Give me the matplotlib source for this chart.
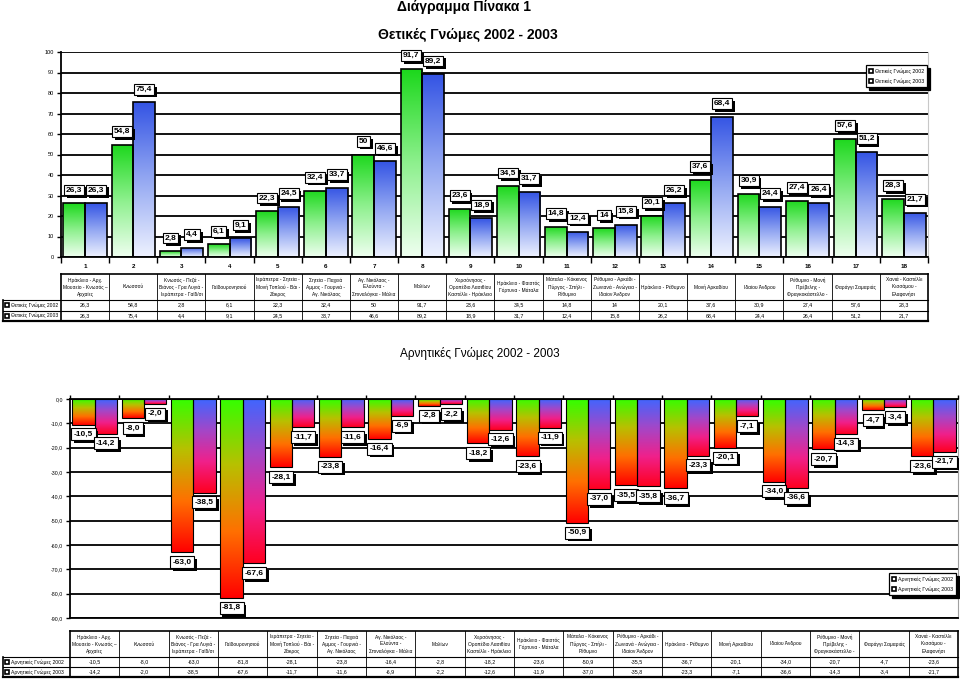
import numpy as np
import matplotlib
matplotlib.use('Agg')
import matplotlib.pyplot as plt
from matplotlib.colors import LinearSegmentedColormap
from matplotlib.lines import Line2D
from matplotlib.transforms import blended_transform_factory, Affine2D
import matplotlib.patheffects as pe

plt.rcParams['font.family'] = ['Liberation Sans', 'DejaVu Sans']

# ---------------- data ----------------
numbers = [str(i) for i in range(1, 19)]
categories = [
    "Ηράκλειο - Αρχ.\nΜουσείο - Κνωσός –\nΑρχαίες",
    "Κνωσσού",
    "Κνωσός - Πεζά -\nΒιάνος - Γρα Λυγιά -\nΙεράπετρα - Γαϊδ/σι",
    "Γαϊδουρονησιού",
    "Ιεράπετρα - Σητεία -\nΜονή Τοπλού - Βάι -\nΖάκρος",
    "Σητεία - Παχειά\nΑμμος - Γουρνιά -\nΑγ. Νικόλαος",
    "Αγ. Νικόλαος -\nΕλούντα -\nΣπιναλόγκα - Μάλια",
    "Μαλίων",
    "Χερσόνησος -\nΟροπέδιο Λασιθίου\nΚαστέλλι - Ηράκλειο",
    "Ηράκλειο - Φαιστός\nΓόρτυνα - Μάταλα",
    "Μάταλα - Κόκκινος\nΠύργος - Σπήλι -\nΡέθυμνο",
    "Ρέθυμνο - Αρκάδι -\nΖωνιανά - Ανώγεια -\nΙδαίον Άνδρον",
    "Ηράκλειο - Ρέθυμνο",
    "Μονή Αρκαδίου",
    "Ιδαίου Άνδρου",
    "Ρέθυμνο - Μονή\nΠρέβελης -\nΦραγκοκάστελλο -",
    "Φαράγγι Σαμαριάς",
    "Χανιά - Καστέλλι\nΚισσάμου -\nΕλαφονήσι",
]
pos_2002 = [26.3, 54.8, 2.8, 6.1, 22.3, 32.4, 50, 91.7, 23.6, 34.5, 14.8, 14, 20.1, 37.6, 30.9, 27.4, 57.6, 28.3]
pos_2003 = [26.3, 75.4, 4.4, 9.1, 24.5, 33.7, 46.6, 89.2, 18.9, 31.7, 12.4, 15.8, 26.2, 68.4, 24.4, 26.4, 51.2, 21.7]
neg_2002 = [-10.5, -8.0, -63.0, -81.8, -28.1, -23.8, -16.4, -2.8, -18.2, -23.6, -50.9, -35.5, -36.7, -20.1, -34.0, -20.7, -4.7, -23.6]
neg_2003 = [-14.2, -2.0, -38.5, -67.6, -11.7, -11.6, -6.9, -2.2, -12.6, -11.9, -37.0, -35.8, -23.3, -7.1, -36.6, -14.3, -3.4, -21.7]
series_pos = ["Θετικές Γνώμες 2002", "Θετικές Γνώμες 2003"]
series_neg = ["Αρνητικές Γνώμες 2002", "Αρνητικές Γνώμες 2003"]
title_main = "Διάγραμμα Πίνακα 1"
title_pos = "Θετικές Γνώμες 2002 - 2003"
title_neg = "Αρνητικές Γνώμες 2002 - 2003"

# ---------------- layout ----------------
W, H = 960, 679
fig = plt.figure(figsize=(W / 100, H / 100), dpi=100)
fig.patch.set_facecolor('white')

POS_BOX = (61, 52, 928, 257)     # left, top, right, bottom in px
NEG_BOX = (70, 399, 958, 618)


def frac(box):
    l, t, r, b = box
    return [l / W, 1 - b / H, (r - l) / W, (b - t) / H]


ax1 = fig.add_axes(frac(POS_BOX))
ax2 = fig.add_axes(frac(NEG_BOX))

cm_pos_g = LinearSegmentedColormap.from_list('pg', ['#1cd81c', '#8ef08e', '#effff0'])
cm_pos_b = LinearSegmentedColormap.from_list('pb', ['#3454e4', '#94a8f2', '#eef2ff'])
cm_neg_g = LinearSegmentedColormap.from_list('ng', ['#33ff00', '#b8c000', '#ff7000', '#ff0000'])
cm_neg_b = LinearSegmentedColormap.from_list('nb', ['#3f66ff', '#a347c8', '#f0208a', '#ff0020'])

GRAD = np.linspace(0, 1, 256).reshape(-1, 1)
SHADOW = [pe.SimplePatchShadow(offset=(2, -2), shadow_rgbFace='black', alpha=1.0), pe.Normal()]


def grad_bars(ax, xs, vals, width, cmap, lw):
    bars = ax.bar(xs, vals, width=width, facecolor='none', edgecolor='black',
                  linewidth=lw, zorder=3)
    for b in bars:
        x0, w = b.get_x(), b.get_width()
        y0, h = b.get_y(), b.get_height()
        lo, hi = min(y0, y0 + h), max(y0, y0 + h)
        im = ax.imshow(GRAD, cmap=cmap, extent=(x0, x0 + w, lo, hi), origin='upper',
                       aspect='auto', zorder=2, interpolation='bilinear')
        im.set_clip_path(b)
    return bars


def data_label(ax, x, y, s, dy, va, pad):
    t = ax.annotate(s, (x, y), xytext=(0, dy), xycoords='data', textcoords='offset points',
                    ha='center', va=va, fontsize=6, fontweight='bold', color='black',
                    annotation_clip=False, zorder=7,
                    bbox=dict(boxstyle='square,pad=%s' % pad, fc='white', ec='black', lw=0.8))
    t.get_bbox_patch().set_path_effects(SHADOW)


x = np.arange(len(categories))
bw = 0.45


def fmt_pos(v):
    return ('%g' % v).replace('.', ',')


def fmt_neg(v):
    return ('%.1f' % v).replace('.', ',')


# ---------------- positive chart ----------------
grad_bars(ax1, x - bw / 2, pos_2002, bw, cm_pos_g, 1.2)
grad_bars(ax1, x + bw / 2, pos_2003, bw, cm_pos_b, 1.2)
for xi, v in zip(x - bw / 2, pos_2002):
    data_label(ax1, xi, v, fmt_pos(v), 7, 'bottom', 0.22)
for xi, v in zip(x + bw / 2, pos_2003):
    data_label(ax1, xi, v, fmt_pos(v), 7, 'bottom', 0.22)

ax1.set_xlim(-0.5, len(categories) - 0.5)
ax1.set_ylim(0, 100)
ax1.set_yticks(np.arange(0, 101, 10))
ax1.set_yticklabels([str(t) for t in range(0, 101, 10)], fontsize=4)
ax1.yaxis.grid(True, color='black', linewidth=1.3)
ax1.set_axisbelow(True)
ax1.set_xticks(x)
ax1.set_xticklabels(numbers, fontsize=4.5, fontweight='bold')
ax1.tick_params(axis='x', which='major', length=0, pad=5)
ax1.set_xticks(np.arange(-0.5, len(categories), 1), minor=True)
ax1.tick_params(axis='x', which='minor', length=4, width=1, direction='out')
ax1.tick_params(axis='y', length=3, width=1, pad=2)
ax1.spines['top'].set_visible(False)
ax1.spines['right'].set_color('#c8c8c8')
ax1.spines['left'].set_linewidth(1.3)
ax1.spines['bottom'].set_linewidth(1.3)

marker_kw = dict(marker='s', linestyle='none', markerfacecolor='white',
                 markeredgecolor='black', markeredgewidth=1.2, markersize=3.2)
h_pos = [Line2D([], [], **marker_kw) for _ in series_pos]
leg1 = ax1.legend(h_pos, series_pos, loc='upper right', bbox_to_anchor=(927 / W, 1 - 65 / H),
                  bbox_transform=fig.transFigure, fontsize=3.8, frameon=True, fancybox=False,
                  edgecolor='black', framealpha=1, borderpad=0.6, labelspacing=0.9,
                  handlelength=0.6, handletextpad=0.4, borderaxespad=0,
                  shadow={'ox': 2, 'oy': -2, 'color': 'black', 'alpha': 1})
leg1.get_frame().set_linewidth(0.9)

# ---------------- negative chart ----------------
grad_bars(ax2, x - bw / 2, neg_2002, bw, cm_neg_g, 0.8)
grad_bars(ax2, x + bw / 2, neg_2003, bw, cm_neg_b, 0.8)
for xi, v in zip(x - bw / 2, neg_2002):
    data_label(ax2, xi, v, fmt_neg(v), -4.5, 'top', 0.3)
for xi, v in zip(x + bw / 2, neg_2003):
    data_label(ax2, xi, v, fmt_neg(v), -4.5, 'top', 0.3)

ax2.set_xlim(-0.5, len(categories) - 0.5)
ax2.set_ylim(-90, 0)
yt = np.arange(-90, 1, 10)
ax2.set_yticks(yt)
ax2.set_yticklabels([fmt_neg(t) for t in yt], fontsize=3.8)
ax2.yaxis.grid(True, color='black', linewidth=1.3)
ax2.set_axisbelow(True)
ax2.xaxis.tick_top()
ax2.set_xticks(x)
ax2.set_xticklabels([])
ax2.tick_params(axis='x', which='major', length=0)
ax2.set_xticks(np.arange(-0.5, len(categories), 1), minor=True)
ax2.tick_params(axis='x', which='minor', length=3, width=1, direction='out', top=True, bottom=False)
ax2.tick_params(axis='y', length=3, width=1, pad=2)
ax2.spines['top'].set_linewidth(1.3)
ax2.spines['left'].set_linewidth(1.3)
ax2.spines['bottom'].set_linewidth(1.3)
ax2.spines['right'].set_color('#a0a0a0')

h_neg = [Line2D([], [], **marker_kw) for _ in series_neg]
leg2 = ax2.legend(h_neg, series_neg, loc='lower right', bbox_to_anchor=(956 / W, 1 - 595 / H),
                  bbox_transform=fig.transFigure, fontsize=3.8, frameon=True, fancybox=False,
                  edgecolor='black', framealpha=1, borderpad=0.6, labelspacing=0.9,
                  handlelength=0.6, handletextpad=0.4, borderaxespad=0,
                  shadow={'ox': 2, 'oy': -2, 'color': 'black', 'alpha': 1})
leg2.get_frame().set_linewidth(0.9)


# ---------------- data tables ----------------
def draw_table(ax, box, top, hdr_h, row_h, headers, row_names, row_vals, fmt):
    left_px, _, right_px, _ = box
    n = len(headers)
    unit = (right_px - left_px) / n
    ytr = Affine2D().scale(1, -1 / H).translate(0, 1) + fig.transFigure
    tr = blended_transform_factory(ax.transData, ytr)
    edges = np.arange(n + 1) - 0.5
    xl = -0.5 - (left_px - 3) / unit
    y_h1 = top + hdr_h
    ys = [y_h1 + k * row_h for k in range(len(row_vals) + 1)]
    bottom = ys[-1]

    def hl(x0, x1, y, lw):
        fig.add_artist(Line2D([x0, x1], [y, y], color='black', lw=lw, transform=tr))

    def vl(xx, y0, y1, lw):
        fig.add_artist(Line2D([xx, xx], [y0, y1], color='black', lw=lw, transform=tr))

    hl(edges[0], edges[-1], top, 1.2)
    hl(xl, edges[-1], y_h1, 0.8)
    for yy in ys[1:-1]:
        hl(xl, edges[-1], yy, 0.8)
    hl(xl, edges[-1], bottom, 1.6)
    vl(xl, y_h1, bottom, 1.2)
    for i, e in enumerate(edges):
        vl(e, top, bottom, 1.2 if i in (0, n) else 0.6)

    for i, h in enumerate(headers):
        fig.text(i, (top + y_h1) / 2, h, transform=tr, ha='center', va='center',
                 fontsize=3.5, linespacing=1.45, multialignment='center')
    for r, (name, vals) in enumerate(zip(row_names, row_vals)):
        yc = (ys[r] + ys[r + 1]) / 2
        fig.add_artist(Line2D([xl + 0.09], [yc], transform=tr, **marker_kw))
        fig.text(xl + 0.17, yc, name, transform=tr, ha='left', va='center', fontsize=3.6)
        for i, v in enumerate(vals):
            fig.text(i, yc, fmt(v), transform=tr, ha='center', va='center', fontsize=3.8)


draw_table(ax1, POS_BOX, 274, 26, 10.5, categories, series_pos, [pos_2002, pos_2003], fmt_pos)
draw_table(ax2, NEG_BOX, 631, 26, 10, categories, series_neg, [neg_2002, neg_2003], fmt_neg)

# ---------------- titles ----------------
fig.text(464 / W, 1 - 7 / H, title_main, ha='center', va='center', fontsize=10, fontweight='bold')
fig.text(468 / W, 1 - 35 / H, title_pos, ha='center', va='center', fontsize=10, fontweight='bold')
fig.text(480 / W, 1 - 353 / H, title_neg, ha='center', va='center', fontsize=8.5)

fig.savefig('out.png', dpi=100, facecolor='white')
